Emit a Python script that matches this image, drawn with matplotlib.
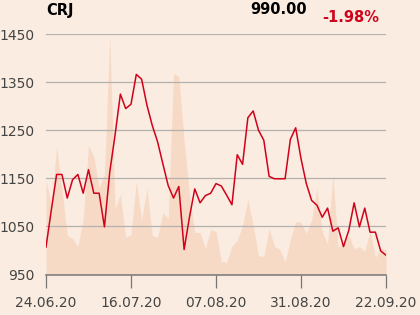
#!/usr/bin/env python3
"""CRJ share price with traded volume shaded underneath (24.06.20 - 22.09.20)."""

import matplotlib
matplotlib.use("Agg")  # headless
import matplotlib.pyplot as plt

# ---- data ------------------------------------------------------------
TICKER = "CRJ"
LAST_PRICE = "990.00"
CHANGE = "-1.98%"

# one entry per trading day, 24.06.20 .. 22.09.20
PRICE = [1007, 1084, 1158, 1158, 1109, 1147, 1158, 1119, 1168, 1119,
         1119, 1049, 1163, 1240, 1325, 1295, 1304, 1366, 1356, 1302,
         1260, 1226, 1180, 1135, 1109, 1133, 1002, 1069, 1128, 1099,
         1114, 1119, 1139, 1134, 1115, 1095, 1199, 1179, 1276, 1290,
         1250, 1229, 1154, 1149, 1149, 1149, 1231, 1255, 1191, 1139,
         1104, 1094, 1069, 1088, 1040, 1047, 1008, 1042, 1099, 1049,
         1088, 1038, 1038, 999, 990]

# traded volume (arbitrary units, thousands)
VOLUME = [94, 70, 127, 86, 39, 36, 28, 55, 129, 118,
          87, 100, 239, 66, 80, 37, 40, 93, 54, 86,
          39, 37, 62, 56, 201, 198, 134, 80, 42, 42,
          26, 45, 43, 13, 12, 28, 34, 49, 75, 49,
          19, 18, 46, 28, 25, 13, 35, 53, 52, 41,
          55, 86, 43, 30, 100, 27, 33, 39, 26, 28,
          23, 44, 17, 26, 25]

TICK_POS = [0, 16, 32, 48, 64]
TICK_LABELS = ["24.06.20", "16.07.20", "07.08.20", "31.08.20", "22.09.20"]
Y_TICKS = [950, 1050, 1150, 1250, 1350, 1450]

BG = "#faece0"
AREA = "#f7dac6"
RED = "#d0021b"
GRID = "#b3b0ad"
TEXT = "#444444"


def make_figure() -> None:
    fig = plt.figure(figsize=(4.2, 3.15), dpi=100, facecolor=BG)
    ax = fig.add_axes([46 / 420, 1 - 274.5 / 315, 340 / 420, 240.5 / 315])
    ax.set_facecolor(BG)
    days = list(range(len(PRICE)))

    # volume on its own scale, drawn behind the price
    vax = ax.twinx()
    vax.fill_between(days, VOLUME, 0, color=AREA, linewidth=0)
    vax.set_ylim(0, 240.5)
    vax.axis("off")
    ax.set_zorder(vax.get_zorder() + 1)
    ax.patch.set_visible(False)
    fig.patch.set_facecolor(BG)

    ax.plot(days, PRICE, color=RED, linewidth=1.1, zorder=3)

    ax.set_xlim(0, len(PRICE) - 1)
    ax.set_ylim(950, 1450)
    ax.set_yticks(Y_TICKS)
    ax.yaxis.grid(True, color=GRID, linewidth=0.9)
    ax.set_axisbelow(True)
    ax.set_xticks(TICK_POS)
    ax.set_xticklabels(TICK_LABELS)
    for side in ("top", "right", "left"):
        ax.spines[side].set_visible(False)
    ax.spines["bottom"].set_color("#777777")
    ax.spines["bottom"].set_linewidth(1.1)
    ax.tick_params(axis="y", length=0, pad=8, labelsize=10, labelcolor=TEXT)
    ax.tick_params(axis="x", length=9.5, width=0.9, color="#777777", pad=6,
                   labelsize=10, labelcolor=TEXT)

    fig.text(46 / 420, 1 - 11 / 315, TICKER, fontsize=10.5, fontweight="bold",
             color="black", ha="left", va="center")
    fig.text(307 / 420, 1 - 10 / 315, LAST_PRICE, fontsize=10.5,
             fontweight="bold", color="black", ha="right", va="center")
    fig.text(379 / 420, 1 - 17 / 315, CHANGE, fontsize=10.5,
             fontweight="bold", color=RED, ha="right", va="center")

    fig.savefig("out.png", dpi=100, facecolor=BG)
    plt.close(fig)


if __name__ == "__main__":
    make_figure()
